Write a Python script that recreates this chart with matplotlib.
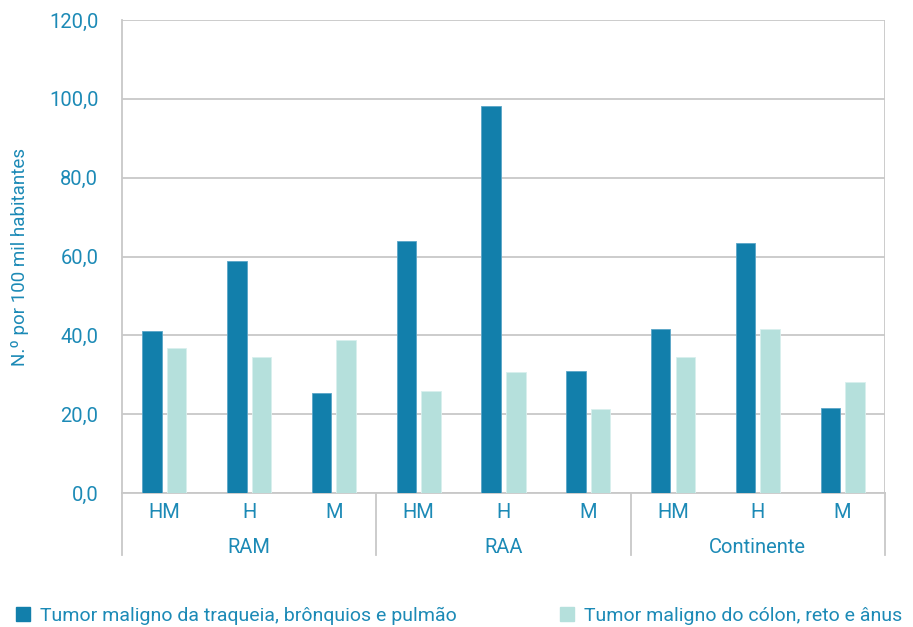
import matplotlib.pyplot as plt
import numpy as np
from matplotlib.patches import Patch

plt.rcParams['font.family'] = ['Roboto', 'DejaVu Sans']

# dados
regioes = ['RAM', 'RAA', 'Continente']
sexos = ['HM', 'H', 'M']
pulmao = [41.1, 58.9, 25.4, 64.0, 98.2, 31.0, 41.5, 63.5, 21.5]
colon = [36.8, 34.5, 38.8, 25.9, 30.8, 21.2, 34.5, 41.5, 28.1]
serie1 = 'Tumor maligno da traqueia, brônquios e pulmão'
serie2 = 'Tumor maligno do cólon, reto e ânus'

cor1 = '#127fab'
cor2 = '#b5e0dc'
cor_texto = '#1c8ab6'
cor_grelha = '#c8c8c8'

fig = plt.figure(figsize=(9.13, 6.27), dpi=100)
ax = fig.add_axes([0.1336, 0.2137, 0.8357, 0.7544])

x = np.arange(len(pulmao))
w = 0.23
ax.bar(x - 0.145, pulmao, w, color=cor1, edgecolor='#5aa6c8', linewidth=0.6, zorder=3)
ax.bar(x + 0.145, colon, w, color=cor2, edgecolor='#d8f0ee', linewidth=0.6, zorder=3)

ax.set_xlim(-0.5, len(pulmao) - 0.5)
ax.set_ylim(0, 120)
ax.set_yticks(np.arange(0, 121, 20))
ax.set_yticklabels([f'{v:.1f}'.replace('.', ',') for v in np.arange(0, 121, 20)],
                   color=cor_texto, fontsize=14.5)
ax.yaxis.grid(True, color=cor_grelha, linewidth=1.3, zorder=0)
ax.tick_params(axis='y', length=0, pad=17)
ax.set_ylabel('N.º por 100 mil habitantes', color=cor_texto, fontsize=13.5, labelpad=14)

ax.set_xticks(x)
ax.set_xticklabels(sexos * 3, color=cor_texto, fontsize=14.5)
ax.tick_params(axis='x', length=0, pad=7)

for s in ['top', 'right']:
    ax.spines[s].set_visible(False)
ax.spines['bottom'].set_color(cor_grelha)
ax.spines['left'].set_color(cor_grelha)
ax.spines['bottom'].set_linewidth(1.3)
ax.spines['left'].set_linewidth(1.3)

# separadores e rótulos das regiões
trans = ax.get_xaxis_transform()
ax.plot([8.5, 8.5], [0, 1], transform=trans, color=cor_grelha, linewidth=1.3, zorder=4)
for b in [-0.5, 2.5, 5.5, 8.5]:
    ax.plot([b, b], [-0.131, 0], transform=trans, color=cor_grelha,
            linewidth=1.3, clip_on=False, zorder=4)
for i, r in enumerate(regioes):
    ax.text(3 * i + 1, -0.116, r, transform=trans, ha='center', va='center',
            color=cor_texto, fontsize=14.5)

fig.legend(handles=[Patch(color=cor1)], labels=[serie1], loc='center left',
           bbox_to_anchor=(-0.002, 0.018), frameon=False, fontsize=14,
           handlelength=0.75, handleheight=0.75, handletextpad=0.5,
           labelcolor=cor_texto)
fig.legend(handles=[Patch(color=cor2)], labels=[serie2], loc='center left',
           bbox_to_anchor=(0.594, 0.018), frameon=False, fontsize=14,
           handlelength=0.75, handleheight=0.75, handletextpad=0.5,
           labelcolor=cor_texto)

plt.savefig('out.png', dpi=100)
